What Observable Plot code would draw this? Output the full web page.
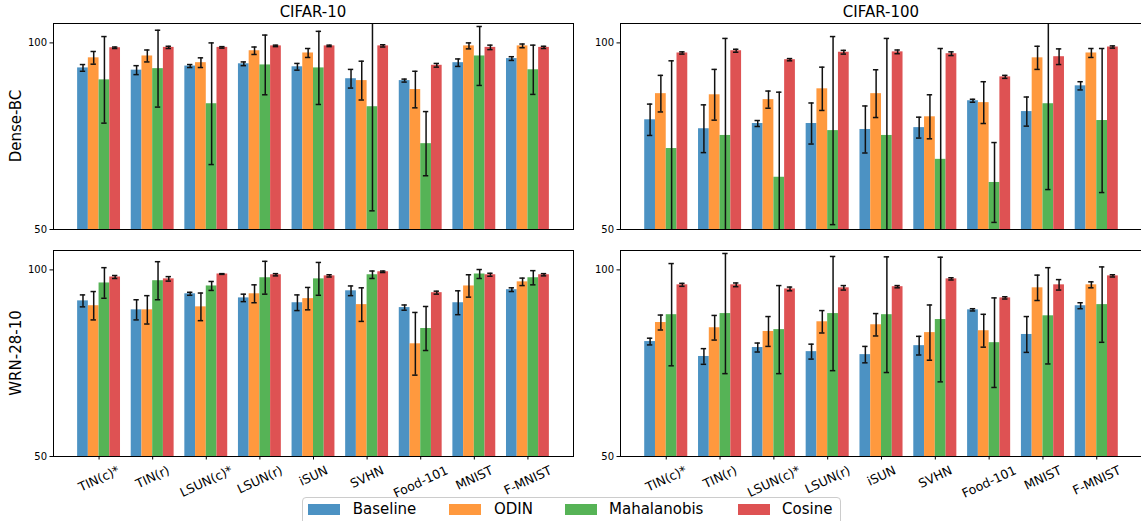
<!DOCTYPE html>
<html>
<head>
<meta charset="utf-8">
<script src="https://cdn.jsdelivr.net/npm/d3@7"></script>
<script src="https://cdn.jsdelivr.net/npm/@observablehq/plot@0.6"></script>
<style>
  html, body { margin: 0; padding: 0; background: #fff; }
  body { width: 1141px; height: 521px; overflow: hidden; position: relative; font-family: "DejaVu Sans", sans-serif; }
  .abs { position: absolute; }
  .title { font-size: 15px; color: #000; white-space: nowrap; transform: translateX(-50%); }
  .ylab { font-size: 15px; color: #000; white-space: nowrap; transform: translate(-50%, -50%) rotate(-90deg); }
  .legend { border: 1px solid #cccccc; border-radius: 4px; background: #fff; }
  .sw { width: 32px; height: 11px; }
  .lt { font-size: 15px; color: #000; white-space: nowrap; line-height: 15px; }
</style>
</head>
<body>
<script>
// ---------- data ----------
const categories = ["TIN(c)*", "TIN(r)", "LSUN(c)*", "LSUN(r)", "iSUN", "SVHN", "Food-101", "MNIST", "F-MNIST"];
const methods = ["Baseline", "ODIN", "Mahalanobis", "Cosine"];
const methodColors = ["#4c92c3", "#ff993e", "#56b356", "#de5253"];
const yTicks = [50, 100];

// Dense-BC, CIFAR-10 (rows: Baseline, ODIN, Mahalanobis, Cosine)
const denseC10 = [
  [93.3, 92.7, 93.8, 94.4, 93.6, 90.4, 89.9, 94.7, 95.8],
  [96.0, 96.5, 94.7, 97.9, 97.3, 89.9, 87.5, 99.2, 99.2],
  [90.1, 93.1, 83.7, 94.1, 93.3, 82.9, 73.0, 96.5, 92.8],
  [98.7, 98.8, 98.8, 99.2, 99.2, 99.2, 94.0, 98.8, 98.8]
];
const denseC10Err = [
  [0.9, 1.2, 0.4, 0.5, 0.9, 2.5, 0.4, 1.0, 0.5],
  [1.7, 1.6, 1.3, 1.0, 1.2, 5.2, 4.9, 0.8, 0.5],
  [11.6, 10.3, 16.3, 8.0, 9.8, 27.9, 8.6, 7.9, 6.6],
  [0.2, 0.3, 0.2, 0.2, 0.2, 0.3, 0.5, 0.6, 0.3]
];

// Dense-BC, CIFAR-100
const denseC100 = [
  [79.4, 77.0, 78.4, 78.4, 76.8, 77.3, 84.5, 81.6, 88.5],
  [86.4, 86.1, 84.8, 87.7, 86.4, 80.2, 84.0, 96.0, 97.3],
  [71.7, 75.2, 64.0, 76.5, 75.2, 68.8, 62.6, 83.7, 79.2],
  [97.3, 97.9, 95.5, 97.5, 97.6, 97.1, 90.9, 96.3, 98.9]
];
const denseC100Err = [
  [4.2, 6.4, 0.8, 5.5, 6.3, 2.8, 0.4, 3.9, 1.1],
  [4.9, 6.8, 2.3, 5.8, 6.4, 5.9, 5.6, 3.1, 1.2],
  [23.5, 26.0, 22.8, 25.2, 26.0, 29.7, 10.7, 23.0, 19.3],
  [0.3, 0.4, 0.3, 0.5, 0.5, 0.5, 0.4, 2.1, 0.3]
];

// WRN-28-10, CIFAR-10
const wrnC10 = [
  [91.7, 89.3, 93.6, 92.5, 91.2, 94.4, 89.9, 91.2, 94.7],
  [90.4, 89.3, 90.1, 93.6, 92.3, 90.7, 80.2, 95.7, 96.8],
  [96.5, 97.1, 95.7, 97.9, 97.6, 98.7, 84.3, 98.9, 97.9],
  [98.1, 97.6, 98.9, 98.7, 98.4, 99.5, 93.9, 98.7, 98.7]
];
const wrnC10Err = [
  [1.6, 2.7, 0.4, 1.0, 2.1, 1.3, 0.7, 3.2, 0.5],
  [3.8, 3.8, 3.7, 2.4, 3.0, 4.5, 8.4, 3.0, 1.0],
  [4.1, 5.1, 1.2, 4.4, 4.4, 1.0, 5.9, 1.2, 1.9],
  [0.4, 0.6, 0.1, 0.3, 0.3, 0.2, 0.4, 0.4, 0.3]
];

// WRN-28-10, CIFAR-100
const wrnC100 = [
  [80.8, 76.8, 79.2, 78.1, 77.3, 79.7, 89.3, 82.7, 90.4],
  [85.9, 84.5, 83.5, 86.1, 85.3, 83.2, 83.7, 95.2, 96.0],
  [88.0, 88.3, 84.0, 88.3, 88.0, 86.7, 80.5, 87.7, 90.7],
  [96.0, 96.0, 94.9, 95.2, 95.5, 97.6, 92.5, 96.0, 98.4]
];
const wrnC100Err = [
  [0.9, 2.1, 1.2, 2.0, 2.2, 2.5, 0.3, 4.8, 0.8],
  [2.0, 3.3, 4.0, 3.0, 3.0, 7.4, 4.4, 3.4, 0.8],
  [13.7, 16.1, 11.8, 15.3, 15.5, 16.7, 12.0, 12.9, 10.1],
  [0.4, 0.5, 0.5, 0.6, 0.3, 0.3, 0.3, 1.4, 0.3]
];

// ---------- drawing ----------
const FONT = "DejaVu Sans";
const BW = 0.2;      // bar width in category units
const CAP = 0.05;    // half cap width

const measureCtx = document.createElement("canvas").getContext("2d");
function textW(s, size) { measureCtx.font = `${size}px "${FONT}"`; return measureCtx.measureText(s).width; }

function panel(values, errs, o) {
  const rows = [];
  methods.forEach((m, j) => categories.forEach((c, i) => {
    rows.push({i, j, method: m, v: values[j][i], e: errs[j][i], cx: i + (j - 1.5) * BW});
  }));
  const marks = [
    Plot.rectY(rows, {x1: d => d.cx - BW / 2, x2: d => d.cx + BW / 2, y1: 50, y2: "v", fill: "method", clip: true}),
    Plot.ruleX(rows, {x: "cx", y1: d => d.v - d.e, y2: d => d.v + d.e, stroke: "#111", strokeWidth: 1.5, clip: true}),
    Plot.ruleY(rows, {y: d => d.v + d.e, x1: d => d.cx - CAP, x2: d => d.cx + CAP, stroke: "#111", strokeWidth: 1.5, clip: true}),
    Plot.ruleY(rows, {y: d => d.v - d.e, x1: d => d.cx - CAP, x2: d => d.cx + CAP, stroke: "#111", strokeWidth: 1.5, clip: true}),
    Plot.axisY({ticks: yTicks, tickSize: 3.5, tickPadding: 3, fontSize: 10, label: null, tickFormat: d => String(d)}),
    Plot.frame({stroke: "#000", strokeWidth: 1})
  ];
  if (o.xlabels) {
    marks.push(Plot.axisX({ticks: d3.range(categories.length), tickSize: 3.5, tickFormat: () => "", label: null}));
    const fs = 12.5, a = 25 * Math.PI / 180;
    categories.forEach((c, i) => {
      const w = textW(c, fs);
      const h = fs * 1.1;
      const bh = w * Math.sin(a) + h * Math.cos(a);
      marks.push(Plot.text([c], {x: () => i, text: d => d, frameAnchor: "bottom", dy: 7 + bh / 2, rotate: -25,
        textAnchor: "middle", lineAnchor: "middle", fontSize: fs, fontFamily: FONT, fill: "#000"}));
    });
  }
  return Plot.plot({
    width: o.width, height: o.height,
    marginLeft: o.ml, marginRight: o.mr, marginTop: o.mt, marginBottom: o.mb,
    style: {fontFamily: FONT, background: "transparent", overflow: "visible"},
    x: {domain: [-0.85, 8.85], axis: null},
    y: {domain: [50, 105.2], axis: null},
    color: {domain: methods, range: methodColors},
    marks
  });
}

function place(el, left, top) {
  el.classList.add("abs");
  el.style.left = left + "px";
  el.style.top = top + "px";
  document.body.appendChild(el);
}

place(panel(denseC10, denseC10Err, {width: 580, height: 240, ml: 53, mr: 7, mt: 23, mb: 11}), 0, 0);
place(panel(denseC100, denseC100Err, {width: 580, height: 240, ml: 53, mr: 5, mt: 23, mb: 11}), 567, 0);
place(panel(wrnC10, wrnC10Err, {width: 580, height: 280, ml: 53, mr: 7, mt: 10, mb: 64, xlabels: true}), 0, 240);
place(panel(wrnC100, wrnC100Err, {width: 580, height: 280, ml: 53, mr: 5, mt: 10, mb: 64, xlabels: true}), 567, 240);

function addDiv(cls, text, left, top) {
  const d = document.createElement("div");
  d.className = "abs " + cls;
  d.textContent = text;
  d.style.left = left + "px";
  d.style.top = top + "px";
  document.body.appendChild(d);
  return d;
}
// titles
addDiv("title", "CIFAR-10", 313, 3);
addDiv("title", "CIFAR-100", 881, 3);
// row labels
addDiv("ylab", "Dense-BC", 16, 126);
addDiv("ylab", "WRN-28-10", 16, 353);

// legend
const lg = document.createElement("div");
lg.className = "abs legend";
lg.style.left = "302px"; lg.style.top = "497px"; lg.style.width = "537px"; lg.style.height = "40px";
document.body.appendChild(lg);
const legendPos = [[308, 352.7], [449, 494], [565, 609], [738, 782]];
methods.forEach((m, j) => {
  const sw = document.createElement("div");
  sw.className = "abs sw";
  sw.style.left = legendPos[j][0] + "px";
  sw.style.top = "504px";
  sw.style.background = methodColors[j];
  document.body.appendChild(sw);
  addDiv("lt", m, legendPos[j][1], 502);
});
</script>
</body>
</html>
